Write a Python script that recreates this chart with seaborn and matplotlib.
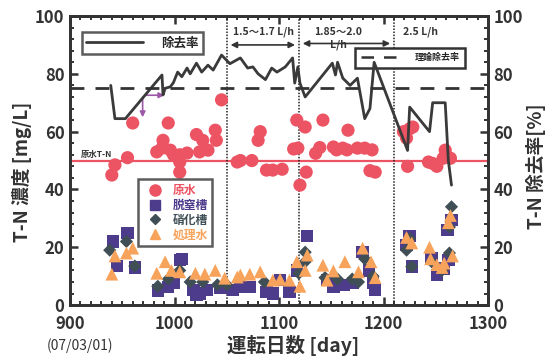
import numpy as np
import pandas as pd
import matplotlib
matplotlib.use('Agg')
import matplotlib.pyplot as plt
import seaborn as sns
from matplotlib.lines import Line2D

# --- data ---
# removal rate [%] (right axis)
rate_day = [939, 943, 953, 988, 989, 991, 996, 999, 1003, 1007, 1012, 1015, 1021, 1026,
            1032, 1037, 1045, 1053, 1063, 1070, 1075, 1080, 1087, 1093, 1098, 1106, 1113,
            1115, 1118, 1120, 1125, 1151, 1154, 1156, 1161, 1168, 1175, 1182, 1187, 1191,
            1223, 1225, 1244, 1247, 1259, 1262, 1265]
rate_val = [76, 64.5, 64.5, 79.6, 72.7, 75, 75.5, 77, 80.6, 79, 82, 80, 83.7, 80.6,
            83, 81.3, 86.5, 83.5, 85.5, 82, 82.4, 80, 78, 82, 80.6, 82.4, 85.5,
            76.8, 82.4, 76.8, 72, 83.7, 79.6, 84, 78.5, 76, 78.5, 64.5, 68, 84,
            53.5, 68.5, 60, 70, 70, 50, 41.5]

# raw water T-N (原水)
raw_day = [940, 943, 955, 960, 983, 988, 989, 994, 996, 999, 1005, 1005, 1005, 1012,
           1021, 1024, 1027, 1032, 1039, 1040, 1045, 1060, 1063, 1074, 1080, 1082,
           1088, 1094, 1103, 1114, 1117, 1118, 1120, 1125, 1126, 1135, 1139, 1142,
           1152, 1155, 1161, 1165, 1166, 1175, 1182, 1187, 1189, 1192, 1219, 1222,
           1223, 1225, 1228, 1243, 1247, 1251, 1257, 1259, 1264]
raw_val = [45, 48.5, 51, 63, 53, 54.3, 57, 63, 53.6, 52, 52, 49.5, 46, 52.6,
           59, 53, 57, 53.6, 60.5, 57, 71, 49.5, 50, 50, 57, 60,
           46.7, 46.7, 47, 54, 64, 54.3, 41.5, 61.6, 46, 52.5, 54.5, 64,
           54.7, 53.7, 54.3, 53.7, 60.5, 54.3, 54.3, 46.5, 53.7, 46, 60, 57.8,
           48, 61, 61.6, 49.5, 49, 48, 50.8, 53.6, 50.8]

# denitrification tank (脱窒槽)
den_day = [941, 945, 955, 962, 984, 994, 999, 1005, 1007, 1018, 1021, 1024, 1031, 1044,
           1046, 1056, 1063, 1072, 1088, 1094, 1101, 1110, 1117, 1127, 1146, 1152,
           1162, 1171, 1180, 1186, 1190, 1192, 1222, 1225, 1227, 1246, 1251, 1258,
           1262, 1261, 1265]
den_val = [22, 13.5, 25, 13, 5, 6.3, 7.6, 15.6, 16, 5.2, 3.5, 4, 5.2, 6,
           6.3, 5.2, 6.3, 6.3, 4.5, 4, 8.6, 4.5, 12, 24, 8.6, 6.3,
           7, 7.6, 18.3, 12, 7.6, 5.2, 20.8, 24, 13.3, 16.3, 10.4, 12.7,
           15.6, 26, 29.4]

# nitrification tank (硝化槽)
nit_day = [938, 954, 962, 984, 994, 1005, 1015, 1027, 1041, 1050, 1086, 1119, 1125, 1125,
           1144, 1156, 1170, 1176, 1182, 1190, 1222, 1225, 1227, 1246, 1256, 1263,
           1263, 1265]
nit_val = [19, 22, 13.5, 6.5, 9, 12, 8, 8, 7, 7, 8, 11, 15, 18.3,
           9.5, 9, 9, 8, 16, 10, 19, 23, 13.3, 15, 12, 18,
           27, 34]

# treated water (処理水)
trt_day = [940, 943, 954, 960, 983, 991, 997, 1005, 1020, 1029, 1039, 1048, 1060, 1063,
           1072, 1082, 1094, 1101, 1110, 1117, 1120, 1125, 1127, 1142, 1146, 1152,
           1163, 1176, 1180, 1188, 1192, 1222, 1227, 1244, 1245, 1251, 1256, 1258,
           1262, 1264, 1266]
trt_val = [10.7, 17, 18, 19.7, 11, 15, 12, 11.5, 11, 10.7, 12, 9.3, 9.7, 10.4,
           10.7, 11.5, 8.6, 8.9, 8.6, 15, 6.5, 12, 17.3, 13.8, 8.6, 11.8,
           15, 11.5, 19.7, 15, 9.5, 23.4, 21.5, 20, 16, 14, 13, 14.5,
           28.5, 31, 17]

flow_change_days = [1050, 1119, 1210]
raw_tn_mean = 50
theory_rate = 75

# --- style ---
sns.set_style('ticks')
plt.rcParams['font.family'] = ['Noto Sans CJK JP', 'DejaVu Sans']
plt.rcParams['font.weight'] = 'bold'
plt.rcParams['axes.linewidth'] = 2.0
plt.rcParams['axes.edgecolor'] = '#333333'

RED = '#ec5363'
BLUE = '#4d3b8c'
GRAY = '#3f4f55'
ORANGE = '#f7a35c'
LINE = '#3a3a3a'

fig = plt.figure(figsize=(5.49, 3.56), dpi=100)
ax = fig.add_axes([0.1275, 0.143, 0.7615, 0.812])
ax2 = ax.twinx()

raw_df = pd.DataFrame({'day': raw_day, 'val': raw_val})
den_df = pd.DataFrame({'day': den_day, 'val': den_val})
nit_df = pd.DataFrame({'day': nit_day, 'val': nit_val})
trt_df = pd.DataFrame({'day': trt_day, 'val': trt_val})
rate_df = pd.DataFrame({'day': rate_day, 'val': rate_val})

ax.axhline(raw_tn_mean, color=RED, lw=1.6, zorder=1)
sns.scatterplot(data=raw_df, x='day', y='val', ax=ax, marker='o', s=90,
                color=RED, edgecolor='none', zorder=3)
sns.scatterplot(data=den_df, x='day', y='val', ax=ax, marker='s', s=80,
                color=BLUE, edgecolor='none', zorder=3)
sns.scatterplot(data=nit_df, x='day', y='val', ax=ax, marker='D', s=45,
                color=GRAY, edgecolor='none', zorder=4)
sns.scatterplot(data=trt_df, x='day', y='val', ax=ax, marker='^', s=85,
                color=ORANGE, edgecolor='none', zorder=5)

for d in flow_change_days:
    ax.axvline(d, color='#222222', lw=1.1, ls=(0, (1, 1)), zorder=2)

sns.lineplot(data=rate_df, x='day', y='val', ax=ax2, color=LINE, lw=2.0,
             sort=False, zorder=6)
ax2.axhline(theory_rate, color='#333333', lw=2.0, ls=(0, (5, 4)), zorder=6)

# purple step arrow
ax2.annotate('', xy=(993, 72.6), xytext=(969.5, 72.6),
             arrowprops=dict(arrowstyle='-|>', color='#9b59a8', lw=1.2, mutation_scale=8))
ax2.annotate('', xy=(969.5, 64), xytext=(969.5, 72.9),
             arrowprops=dict(arrowstyle='-|>', color='#9b59a8', lw=1.2, mutation_scale=8))

# flow-rate annotations
ax2.annotate('', xy=(1051, 90), xytext=(1118, 90),
             arrowprops=dict(arrowstyle='<|-|>', color='#333333', lw=1.2, mutation_scale=9))
ax2.annotate('', xy=(1120, 90.5), xytext=(1209, 90.5),
             arrowprops=dict(arrowstyle='<|-|>', color='#333333', lw=1.2, mutation_scale=9))
ax2.text(1085, 94.5, '1.5～1.7 L/h', ha='center', va='center', fontsize=7.5, color='#333333')
ax2.text(1157, 94.5, '1.85～2.0', ha='center', va='center', fontsize=7.5, color='#333333')
ax2.text(1157, 90.0, 'L/h', ha='center', va='center', fontsize=7.5, color='#333333')
ax2.text(1235, 94.5, '2.5 L/h', ha='center', va='center', fontsize=7.5, color='#333333')
ax2.text(910, 52, '原水T-N', ha='left', va='center', fontsize=6, color='#333333')

# axes setup
for a in (ax, ax2):
    a.set_xlim(900, 1300)
    a.set_ylim(0, 100)
    a.set_yticks([0, 20, 40, 60, 80, 100])
    a.set_yticks(np.arange(0, 101, 4), minor=True)
    a.tick_params(axis='both', which='major', direction='in', length=6, width=1.8,
                  labelsize=12, colors='#333333', pad=4)
    a.tick_params(axis='both', which='minor', direction='in', length=3, width=1.4,
                  colors='#333333')
ax.set_xticks([900, 1000, 1100, 1200, 1300])
ax.set_xticks(np.arange(900, 1301, 10), minor=True)
ax.tick_params(axis='x', which='major', pad=7)
ax.tick_params(top=True, which='both')
ax2.tick_params(axis='y', right=True)
for lab in ax.get_xticklabels() + ax.get_yticklabels() + ax2.get_yticklabels():
    lab.set_fontweight('bold')

ax.set_xlabel('運転日数 [day]', fontsize=14, fontweight='bold', color='#333333')
ax.xaxis.set_label_coords(0.533, -0.105)
ax.set_ylabel('T-N 濃度 [mg/L]', fontsize=13.5, fontweight='bold', color='#333333')
ax.yaxis.set_label_coords(-0.09, 0.46)
ax2.set_ylabel('T-N 除去率[%]', fontsize=13.5, fontweight='bold', color='#333333')
ax2.yaxis.set_label_coords(1.09, 0.48)
ax.text(910, -11.3, '(07/03/01)', ha='center', va='top', fontsize=10,
        fontweight='normal', color='#333333', transform=ax.transData, clip_on=False)

# legends
leg1 = ax2.legend(handles=[Line2D([0], [0], color=LINE, lw=2)], labels=['除去率'],
                  loc='upper left', bbox_to_anchor=(0.029, 0.945), handlelength=4.5,
                  frameon=True, fancybox=False, edgecolor='#333333', fontsize=9,
                  borderpad=0.35, handletextpad=1.5, borderaxespad=0)
leg1.get_frame().set_linewidth(1.8)
ax2.add_artist(leg1)

leg2 = ax2.legend(handles=[Line2D([0], [0], color='#333333', lw=1.8, ls=(0, (5, 4)))],
                  labels=['理論除去率'], loc='upper left', bbox_to_anchor=(0.682, 0.89),
                  handlelength=4.5, frameon=True, fancybox=False, edgecolor='#333333',
                  fontsize=6.5, borderpad=0.6, handletextpad=1.5, borderaxespad=0)
leg2.get_frame().set_linewidth(1.8)
leg2.get_frame().set_facecolor('white')
leg2.get_frame().set_alpha(1)
ax2.add_artist(leg2)

mk = [Line2D([0], [0], marker='o', color=RED, ls='none', markersize=8),
      Line2D([0], [0], marker='s', color=BLUE, ls='none', markersize=7),
      Line2D([0], [0], marker='D', color=GRAY, ls='none', markersize=5.5),
      Line2D([0], [0], marker='^', color=ORANGE, ls='none', markersize=7)]
leg3 = ax2.legend(handles=mk, labels=['原水', '脱窒槽', '硝化槽', '処理水'],
                  loc='upper left', bbox_to_anchor=(0.163, 0.435), frameon=True,
                  fancybox=False, edgecolor='#333333', fontsize=8.5, borderpad=0.4,
                  labelspacing=0.15, handletextpad=0.5, borderaxespad=0)
leg3.get_frame().set_linewidth(1.8)
for t, c in zip(leg3.get_texts(), [RED, BLUE, GRAY, ORANGE]):
    t.set_color(c)
    t.set_fontweight('bold')

fig.savefig('out.png', dpi=100)
